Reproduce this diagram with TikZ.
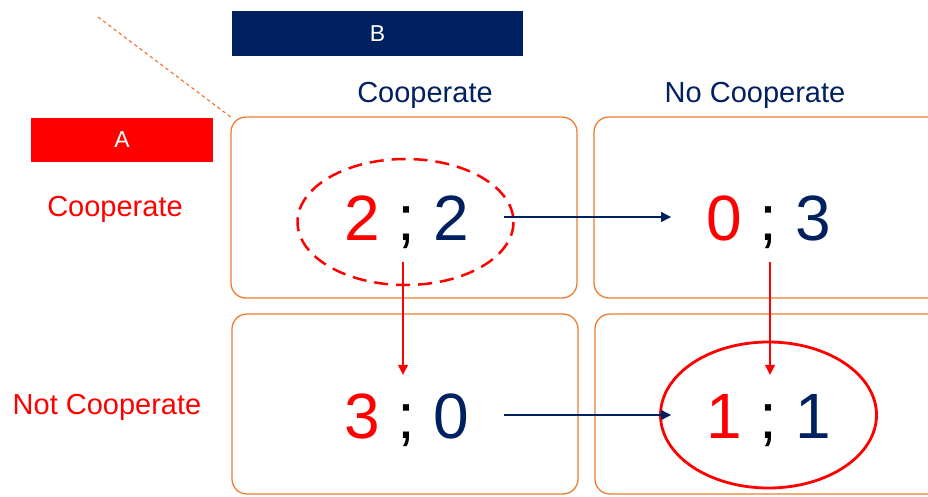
\documentclass[tikz,border=0pt]{standalone}
\usepackage{fontspec}
\setmainfont{Liberation Sans}
\usetikzlibrary{arrows.meta}

\definecolor{navy}{HTML}{002060}
\definecolor{hotred}{HTML}{FF0000}
\definecolor{boxorange}{HTML}{ED7D31}

\tikzset{
  cellbox/.style={draw=boxorange, line width=1.3pt, rounded corners=15pt},
  headbox/.style={minimum height=45pt, inner sep=0pt, text=white,
                  font=\fontsize{23}{27}\selectfont},
  strategy/.style={anchor=base, font=\fontsize{29}{34}\selectfont},
  payoff/.style={font=\fontsize{64}{70}\selectfont, inner xsep=35pt,
                 inner ysep=22pt, text height=46pt, text depth=0pt},
  bluearrow/.style={draw=navy, line width=1.3pt,
                    -{Triangle[length=10pt,width=10pt]}},
  redarrow/.style={draw=hotred, line width=1.3pt,
                   -{Triangle[length=10pt,width=10pt]}},
}

\newcommand{\pay}[2]{\textcolor{hotred}{#1} ; \textcolor{navy}{#2}}

\begin{document}
\begin{tikzpicture}[x=1pt, y=-1pt]
  \useasboundingbox (0,0) rectangle (928,496);
  \clip (0,0) rectangle (928,496);

  % player headers
  \node[headbox, fill=navy, minimum width=291pt] (B) at (377.5,33.5) {B};
  \node[headbox, fill=hotred, minimum width=182pt, minimum height=44pt] (A) at (122,140) {A};

  % dashed guide towards the matrix corner
  \coordinate (guide) at (98,17);
  \coordinate (corner) at (232,118);
  \draw[boxorange, line width=1.2pt, dash pattern=on 3.5pt off 3pt] (guide) -- (corner);

  % strategy labels
  \node[strategy, text=navy] (bc) at (425,102) {Cooperate};
  \node[strategy, text=navy] (bn) at (755,102) {No Cooperate};
  \node[strategy, text=hotred] (ac) at (115,216) {Cooperate};
  \node[strategy, text=hotred] (an) at (107,414) {Not Cooperate};

  % payoff cells
  \draw[cellbox] (231,117) rectangle (577,298);
  \draw[cellbox] (594,117) rectangle (950,298);
  \draw[cellbox] (232,314) rectangle (578,494);
  \draw[cellbox] (595,314) rectangle (950,494);

  % payoffs
  \node[payoff] (n22) at (406.5,217) {\pay{2}{2}};
  \node[payoff] (n03) at (768.5,217) {\pay{0}{3}};
  \node[payoff] (n30) at (406.5,415) {\pay{3}{0}};
  \node[payoff] (n11) at (768.5,415) {\pay{1}{1}};

  % highlighted outcomes
  \draw[hotred, line width=2.5pt, dash pattern=on 14pt off 8pt]
    (405.5,222) ellipse [x radius=108, y radius=63];
  \draw[hotred, line width=2.8pt] (n11.center) ellipse [x radius=108, y radius=73];

  % best responses
  \draw[bluearrow] (n22.east) -- (n03.west);
  \draw[bluearrow] (n30.east) -- (n11.west);
  \draw[redarrow, shorten >=-5pt] ([xshift=-3.5pt]n22.south) -- ([xshift=-3.5pt]n30.north);
  \draw[redarrow, shorten >=-5pt] ([xshift=1.5pt]n03.south) -- ([xshift=1.5pt]n11.north);
\end{tikzpicture}
\end{document}
